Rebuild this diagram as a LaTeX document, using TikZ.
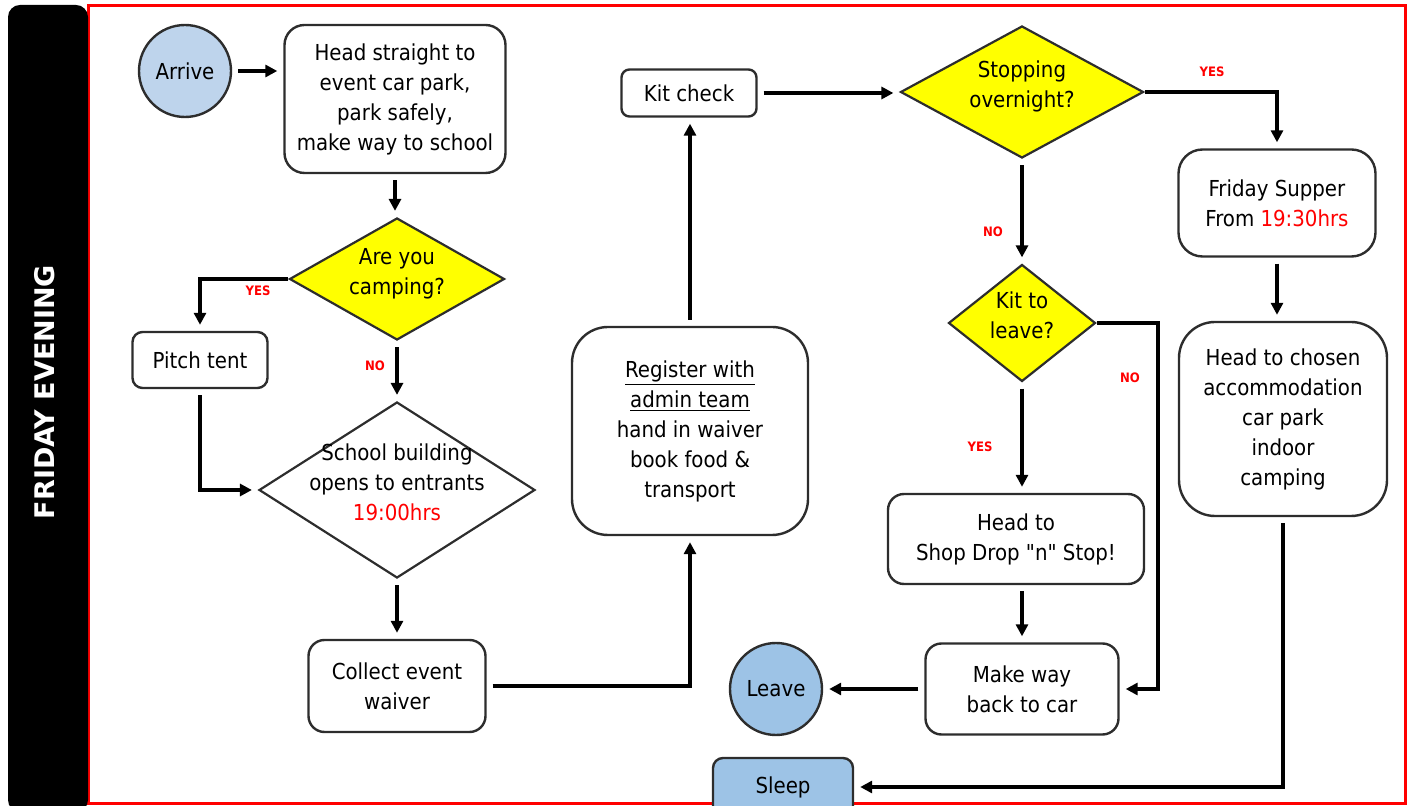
\documentclass[tikz,border=0pt]{standalone}
\usepackage{fontspec}
\setmainfont{DejaVu Sans Condensed}
\newfontfamily\bandfont{DejaVu Sans}
\newfontfamily\quotefont{DejaVu Sans Condensed}
\usetikzlibrary{shapes.geometric,arrows.meta}
\definecolor{startBlue}{RGB}{190,212,236}
\definecolor{endBlue}{RGB}{157,195,230}
\definecolor{decYellow}{RGB}{255,255,0}
\definecolor{edgeGray}{RGB}{45,45,45}
\newcommand{\dtext}[1]{\smash{\makebox[0pt]{\begin{tabular}{@{}c@{}}#1\end{tabular}}}}
\begin{document}
\begin{tikzpicture}[x=0.5pt, y=-0.5pt,
    boxStyle/.style={rectangle, draw=edgeGray, line width=1.2pt, fill=white, align=center, font=\fontsize{11}{15}\selectfont},
    decisionStyle/.style={diamond, draw=edgeGray, line width=1.1pt, fill=decYellow, inner sep=0pt, font=\fontsize{11}{15}\selectfont},
    termStyle/.style={circle, draw=edgeGray, line width=1.2pt, fill=endBlue, inner sep=0pt, minimum size=46pt, font=\fontsize{11}{15}\selectfont},
    labelStyle/.style={text=red, font=\bfseries\fontsize{6.5}{7}\selectfont, inner sep=1pt},
    arrowStyle/.style={-{Triangle[length=6pt,width=6pt]}, line width=1.6pt, shorten >=3pt, shorten <=3pt}]
    \useasboundingbox (0,0) rectangle (1409,806);
    \draw[red, line width=1.5pt] (88,6) rectangle (1405,803);
    \fill[black, rounded corners=6pt] (8,5) -- (88,5) -- (88,812) -- (8,812) -- cycle;
    \node[text=white, rotate=90, font=\bandfont\bfseries\fontsize{13.5}{15}\selectfont](band) at (45,392) {FRIDAY EVENING};

    \node[termStyle, fill=startBlue](arrive) at (185,71) {Arrive};
    \node[boxStyle, rounded corners=10pt, minimum width=110.5pt, minimum height=74pt](head) at (395,99) {Head straight to\\event car park,\\park safely,\\make way to school};
    \node[decisionStyle, minimum width=107.5pt, minimum height=61pt](camp) at (397,279) {\dtext{Are you\\camping?}};
    \node[boxStyle, rounded corners=5pt, minimum width=67.5pt, minimum height=28pt](pitch) at (200,360) {Pitch tent};
    \node[decisionStyle, fill=white, minimum width=138pt, minimum height=88pt](school) at (397,490) {\dtext{School building\\opens to entrants\\\textcolor{red}{19:00hrs}}};
    \node[boxStyle, rounded corners=8pt, minimum width=88.5pt, minimum height=46pt](collect) at (397,686) {Collect event\\waiver};
    \node[boxStyle, rounded corners=18pt, minimum width=118pt, minimum height=104pt](register) at (690,431) {\underline{Register with}\\\underline{admin team}\\hand in waiver\\book food \&\\transport};
    \node[boxStyle, rounded corners=4pt, minimum width=67.5pt, minimum height=23.5pt](kit) at (689,93) {Kit check};
    \node[decisionStyle, minimum width=121.5pt, minimum height=66pt](stop) at (1022,92) {\dtext{Stopping\\overnight?}};
    \node[decisionStyle, minimum width=73.5pt, minimum height=58.5pt](leavekit) at (1022,323) {\dtext{Kit to\\leave?}};
    \node[boxStyle, rounded corners=8pt, minimum width=128pt, minimum height=45pt](shop) at (1016,539) {Head to\\Shop Drop {\quotefont"n"} Stop!};
    \node[boxStyle, rounded corners=8pt, minimum width=96.5pt, minimum height=45.5pt](makeway) at (1022,689) {Make way\\back to car};
    \node[termStyle](leave) at (776,689) {Leave};
    \node[boxStyle, rounded corners=12pt, minimum width=98.5pt, minimum height=53.5pt](supper) at (1277,203) {Friday Supper\\From \textcolor{red}{19:30hrs}};
    \node[boxStyle, rounded corners=18pt, minimum width=104pt, minimum height=97pt](chosen) at (1283,419) {Head to chosen\\accommodation\\car park\\indoor\\camping};
    \node[boxStyle, fill=endBlue, rounded corners=5pt, minimum width=70pt, minimum height=29pt](sleep) at (783,787) {Sleep};
    \coordinate (noTurn) at (1158,323);

    \node[labelStyle](yesCamp) at (258,291) {YES};
    \node[labelStyle](noCamp) at (375,366) {NO};
    \node[labelStyle](yesStop) at (1212,72) {YES};
    \node[labelStyle](noStop) at (993,232) {NO};
    \node[labelStyle](noKit) at (1130,378) {NO};
    \node[labelStyle](yesKit) at (980,447) {YES};

    \draw[arrowStyle] (arrive.east) -- (arrive.east -| head.west);
    \draw[arrowStyle] (head.south) -- (head.south |- camp.north);
    \draw[arrowStyle, shorten <=0pt] (camp.west) -| (pitch.north);
    \draw[arrowStyle] (camp.south) -- (school.north);
    \draw[arrowStyle] (pitch.south) |- (school.west);
    \draw[arrowStyle] (school.south) -- (collect.north);
    \draw[arrowStyle] (collect.east) -| (register.south);
    \draw[arrowStyle] (register.north) -- (register.north |- kit.south);
    \draw[arrowStyle] (kit.east) -- (kit.east -| stop.west);
    \draw[arrowStyle, shorten <=0pt] (stop.east) -| (supper.north);
    \draw[arrowStyle] (stop.south) -- (leavekit.north);
    \draw[arrowStyle, shorten <=0pt] (leavekit.east) -- (noTurn) |- (makeway.east);
    \draw[arrowStyle] (leavekit.south) -- (leavekit.south |- shop.north);
    \draw[arrowStyle] (shop.south -| makeway.north) -- (makeway.north);
    \draw[arrowStyle] (makeway.west) -- (leave.east);
    \draw[arrowStyle] (supper.south) -- (supper.south |- chosen.north);
    \draw[arrowStyle] (chosen.south) |- (sleep.east);
\end{tikzpicture}
\end{document}
